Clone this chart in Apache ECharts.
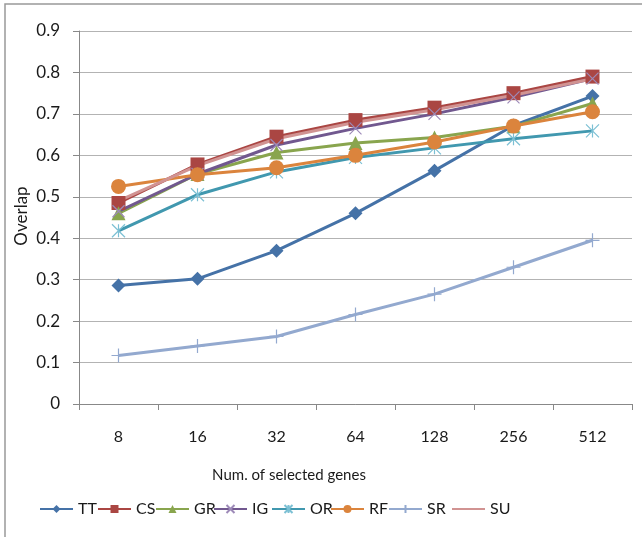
<!DOCTYPE html>
<html>
<head>
<meta charset="utf-8">
<script src="https://cdn.jsdelivr.net/npm/echarts@6/dist/echarts.min.js"></script>
<style>html,body{margin:0;padding:0;background:#fff;}#c{width:642px;height:537px;}</style>
</head>
<body>
<div id="c"></div>
<script>
var categories = ['8', '16', '32', '64', '128', '256', '512'];
var TT = [0.286, 0.302, 0.370, 0.460, 0.563, 0.672, 0.743];
var CS = [0.485, 0.578, 0.645, 0.685, 0.715, 0.750, 0.790];
var GR = [0.460, 0.555, 0.607, 0.630, 0.643, 0.670, 0.725];
var IG = [0.465, 0.555, 0.625, 0.665, 0.700, 0.740, 0.785];
var OR = [0.418, 0.505, 0.560, 0.595, 0.618, 0.640, 0.659];
var RF = [0.525, 0.553, 0.570, 0.600, 0.632, 0.671, 0.705];
var SR = [0.117, 0.140, 0.163, 0.216, 0.265, 0.330, 0.395];
var SU = [0.490, 0.575, 0.640, 0.680, 0.710, 0.745, 0.785];
var seriesNames = ['TT', 'CS', 'GR', 'IG', 'OR', 'RF', 'SR', 'SU'];
var yTicks = ['0', '0.1', '0.2', '0.3', '0.4', '0.5', '0.6', '0.7', '0.8', '0.9'];

var FONT = 'Lato, "Open Sans", "DejaVu Sans", sans-serif';
var X_PATH = 'path://M0,0 L10,10 M10,0 L0,10';
var AST_PATH = 'path://M0,0 L10,10 M10,0 L0,10 M5,0 L5,10';
var PLUS_PATH = 'path://M5,0 L5,10 M0,5 L10,5';

function mk(name, data, color, symbol, size, stroke) {
  var s = {
    name: name, type: 'line', data: data,
    symbol: symbol, symbolSize: size,
    lineStyle: { color: color, width: 3 },
    itemStyle: { color: color },
    z: 2
  };
  if (stroke) {
    s.itemStyle = { color: 'none', borderColor: stroke, borderWidth: 1.2 };
  }
  if (size === 0) s.showSymbol = false;
  return s;
}

var legendLefts = [39, 97, 155, 213, 271, 330, 388, 451];
var legends = seriesNames.map(function (n, i) {
  return {
    top: 501, left: legendLefts[i], padding: 0,
    itemWidth: 33, itemHeight: 10, itemGap: 0,
    textStyle: { fontSize: 16, color: '#1a1a1a', fontFamily: FONT },
    data: [n === 'SU' ? { name: 'SU', itemStyle: { opacity: 0 } } : n]
  };
});

var chart = echarts.init(document.getElementById('c'));
chart.setOption({
  animation: false,
  backgroundColor: '#fff',
  textStyle: { fontFamily: FONT },
  grid: { left: 79, right: 10, top: 31, bottom: 133, containLabel: false },
  legend: legends,
  xAxis: {
    type: 'category', data: categories, boundaryGap: true,
    axisLine: { lineStyle: { color: '#888', width: 1 } },
    axisTick: { show: true, length: 6, lineStyle: { color: '#888' } },
    axisLabel: { fontSize: 16, color: '#1a1a1a', margin: 25, fontFamily: FONT },
    splitLine: { show: false }
  },
  yAxis: {
    type: 'value', min: 0, max: 0.9, interval: 0.1,
    axisLine: { show: true, lineStyle: { color: '#888', width: 1 } },
    axisTick: { show: true, length: 6, inside: false, lineStyle: { color: '#888' } },
    axisLabel: { fontSize: 17, color: '#1a1a1a', margin: 19, fontFamily: FONT,
      formatter: function (v) { return yTicks[Math.round(v * 10)]; } },
    splitLine: { lineStyle: { color: '#b3b3b3', width: 1.2 } }
  },
  graphic: [
    { type: 'rect', shape: { x: 5, y: 4, width: 700, height: 600 }, style: { fill: 'none', stroke: '#999', lineWidth: 1.5 }, z: 0 },
    { type: 'text', x: 22, y: 216, rotation: Math.PI / 2, style: { text: 'Overlap', font: '17px ' + FONT, fill: '#1a1a1a', textAlign: 'center', textVerticalAlign: 'middle' } },
    { type: 'text', x: 289, y: 475, style: { text: 'Num. of selected genes', font: '15px ' + FONT, fill: '#1a1a1a', textAlign: 'center', textVerticalAlign: 'middle' } }
  ],
  series: [
    mk('TT', TT, '#4572A7', 'diamond', 14),
    mk('CS', CS, '#AA4643', 'rect', 14),
    mk('GR', GR, '#89A54E', 'triangle', 14),
    mk('IG', IG, '#71588F', X_PATH, 12, '#9d8ab8'),
    mk('OR', OR, '#4198AF', AST_PATH, 13, '#7cc0d4'),
    mk('RF', RF, '#DB843D', 'circle', 15),
    mk('SR', SR, '#93A9CF', PLUS_PATH, 14, '#93A9CF'),
    mk('SU', SU, '#D19392', 'circle', 0)
  ]
});
</script>
</body>
</html>
